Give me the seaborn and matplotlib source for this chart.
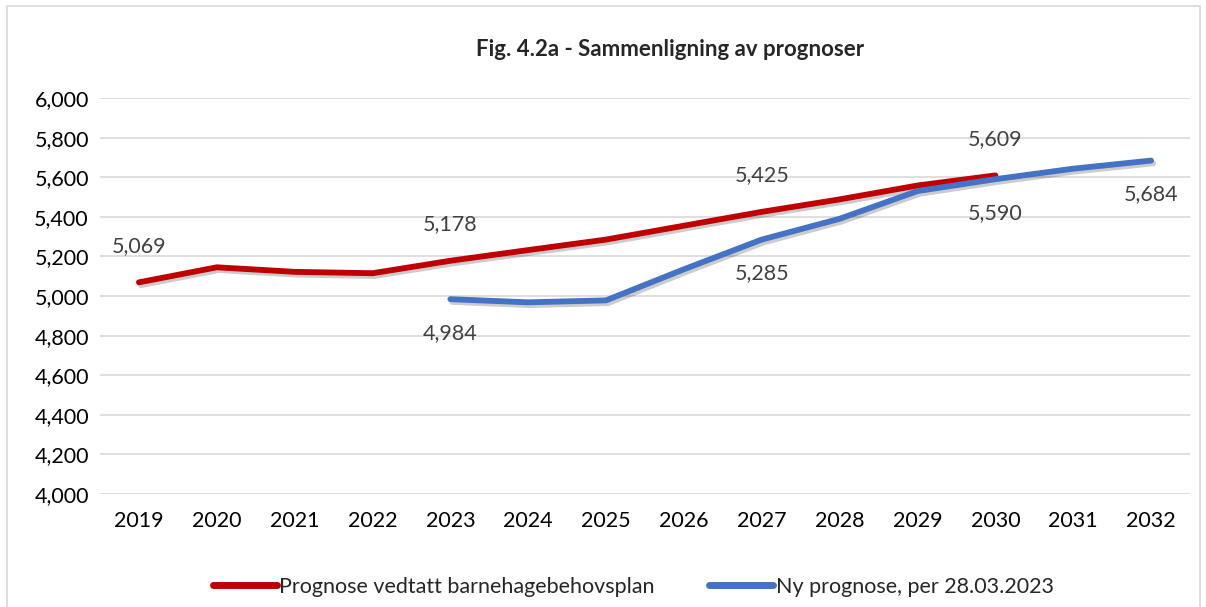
import matplotlib
matplotlib.use("Agg")
import matplotlib.pyplot as plt
import matplotlib.patheffects as pe
from matplotlib.patches import Rectangle
from matplotlib.lines import Line2D
import numpy as np
import pandas as pd
import seaborn as sns

years = [2019, 2020, 2021, 2022, 2023, 2024, 2025, 2026, 2027, 2028, 2029, 2030, 2031, 2032]
old_plan = [5069, 5145, 5122, 5115, 5178, 5232, 5285, 5355, 5425, 5488, 5558, 5609, np.nan, np.nan]
new_forecast = [np.nan, np.nan, np.nan, np.nan, 4984, 4968, 4978, 5135, 5285, 5390, 5530, 5590, 5643, 5684]

old_name = "Prognose vedtatt barnehagebehovsplan"
new_name = "Ny prognose, per 28.03.2023"
old_labels = [2019, 2023, 2027, 2030]
new_labels = [2023, 2027, 2030, 2032]

df = pd.DataFrame({
    "pos": list(range(len(years))) * 2,
    "value": old_plan + new_forecast,
    "series": [old_name] * len(years) + [new_name] * len(years),
})

sns.set_theme(style="white")
plt.rcParams["font.family"] = ["Lato", "DejaVu Sans"]

fig = plt.figure(figsize=(12.06, 6.07), dpi=100)
ax = fig.add_axes([100 / 1206, 1 - 494 / 607, 1090 / 1206, 396 / 607])

palette = {old_name: "#C00000", new_name: "#4472C4"}
sns.lineplot(data=df, x="pos", y="value", hue="series", palette=palette,
             linewidth=4.2, ax=ax, legend=False, solid_capstyle="round")
shadow = [pe.SimpleLineShadow(offset=(1.5, -2), alpha=0.2, shadow_color="black"), pe.Normal()]
for line in ax.lines:
    line.set_path_effects(shadow)

# data labels: red above, blue below
for yr in old_labels:
    i = years.index(yr)
    ax.annotate(f"{old_plan[i]:,.0f}", (i, old_plan[i]), xytext=(0, 19),
                textcoords="offset points", ha="center", va="bottom",
                fontsize=15.5, color="#404040")
for yr in new_labels:
    i = years.index(yr)
    ax.annotate(f"{new_forecast[i]:,.0f}", (i, new_forecast[i]), xytext=(0, -17),
                textcoords="offset points", ha="center", va="top",
                fontsize=15.5, color="#404040")

ax.set_xlim(-0.5, len(years) - 0.5)
ax.set_ylim(4000, 6000)
ax.set_yticks(range(4000, 6001, 200))
ax.yaxis.set_major_formatter(matplotlib.ticker.StrMethodFormatter("{x:,.0f}"))
ax.set_xticks(range(len(years)))
ax.set_xticklabels([str(y) for y in years])
ax.tick_params(axis="both", labelsize=15.5, colors="#000000", length=0, pad=12)
ax.tick_params(axis="y", pad=8)
ax.grid(axis="y", color="#D9D9D9", linewidth=1.2)
ax.set_axisbelow(True)
for s in ax.spines.values():
    s.set_visible(False)
ax.set_xlabel("")
ax.set_ylabel("")

fig.text(670 / 1206, 1 - 50 / 607, "Fig. 4.2a - Sammenligning av prognoser", ha="center",
         va="center", fontsize=16, fontweight="bold")

# legend
handles = [Line2D([], [], color=palette[old_name], linewidth=5, solid_capstyle="round"),
           Line2D([], [], color=palette[new_name], linewidth=5, solid_capstyle="round")]
fig.legend(handles, [old_name, new_name], loc="center", bbox_to_anchor=(0.525, 1 - 587 / 607),
           ncol=2, frameon=False, fontsize=15.5, handlelength=3, handletextpad=0.1,
           columnspacing=2.5)

fig.patches.append(Rectangle((7 / 1206, -0.05), 1193 / 1206, 1 - 6 / 607 + 0.05,
                             transform=fig.transFigure, fill=False,
                             edgecolor="#D9D9D9", linewidth=1.2))

fig.savefig("out.png", dpi=100)
